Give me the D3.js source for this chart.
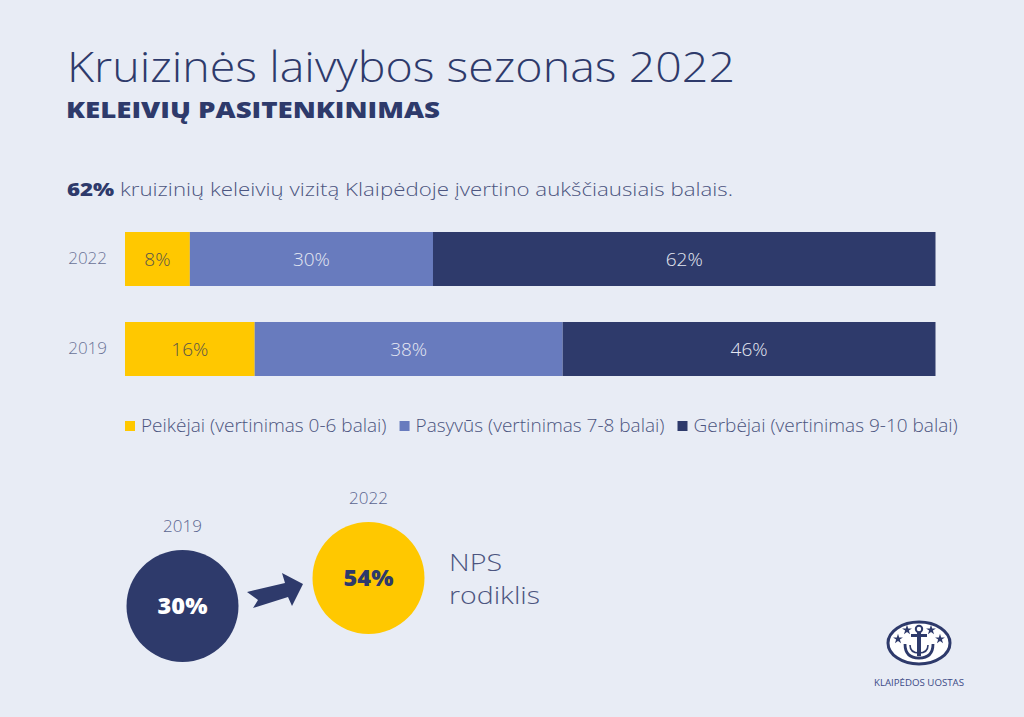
<!DOCTYPE html>
<html>
<head>
<meta charset="utf-8">
<script src="https://cdn.jsdelivr.net/npm/d3@7"></script>
<style>
  body { margin: 0; background: #e8ecf5; }
  svg { display: block; font-family: "Open Sans", sans-serif; }
</style>
</head>
<body>
<svg id="chart"></svg>
<script>
// Data
const years = ["2022", "2019"];
const peikejai = [8, 16];
const pasyvus = [30, 38];
const gerbejai = [62, 46];
const seriesKeys = ["peikejai", "pasyvus", "gerbejai"];
const seriesLabels = [
  "Peikėjai (vertinimas 0-6 balai)",
  "Pasyvūs (vertinimas 7-8 balai)",
  "Gerbėjai (vertinimas 9-10 balai)"
];
const seriesColors = ["#ffc800", "#687bbe", "#2e3a6b"];
const npsYears = ["2019", "2022"];
const npsValues = [30, 54];

const width = 1024;
const height = 717;
const navy = "#2e3a6b";

const svg = d3.select("#chart")
  .attr("width", width)
  .attr("height", height);

svg.append("rect")
  .attr("width", width)
  .attr("height", height)
  .attr("fill", "#e8ecf5");

// Titles
svg.append("text")
  .attr("x", 67)
  .attr("y", 82)
  .attr("fill", navy)
  .attr("font-size", 42)
  .attr("font-weight", 300)
  .attr("textLength", 668)
  .attr("lengthAdjust", "spacingAndGlyphs")
  .text("Kruizinės laivybos sezonas 2022");

svg.append("text")
  .attr("x", 66)
  .attr("y", 118)
  .attr("fill", navy)
  .attr("font-size", 22)
  .attr("font-weight", 800)
  .attr("textLength", 374)
  .attr("lengthAdjust", "spacingAndGlyphs")
  .text("KELEIVIŲ PASITENKINIMAS");

const intro = svg.append("text")
  .attr("x", 67)
  .attr("y", 196)
  .attr("fill", "#4c5580")
  .attr("font-size", 18)
  .attr("textLength", 666)
  .attr("lengthAdjust", "spacingAndGlyphs");
intro.append("tspan")
  .attr("font-weight", 800)
  .attr("fill", navy)
  .text("62%");
intro.append("tspan")
  .attr("font-weight", 300)
  .text(" kruizinių keleivių vizitą Klaipėdoje įvertino aukščiausiais balais.");

// Stacked bars
const rows = years.map((y, i) => ({
  year: y,
  peikejai: peikejai[i],
  pasyvus: pasyvus[i],
  gerbejai: gerbejai[i]
}));

const stacked = d3.stack().keys(seriesKeys)(rows);

const x = d3.scaleLinear()
  .domain([0, 100])
  .range([125, 935.5]);

const y = d3.scaleBand()
  .domain(years)
  .range([232, 376])
  .paddingInner(0.4);

const color = d3.scaleOrdinal()
  .domain(seriesKeys)
  .range(seriesColors);

const layers = svg.selectAll(".layer")
  .data(stacked)
  .enter()
  .append("g")
  .attr("class", "layer")
  .attr("fill", d => color(d.key));

layers.selectAll("rect")
  .data(d => d)
  .enter()
  .append("rect")
  .attr("x", d => x(d[0]))
  .attr("y", d => y(d.data.year))
  .attr("width", d => x(d[1]) - x(d[0]))
  .attr("height", y.bandwidth());

layers.selectAll("text")
  .data(d => d.map(v => ({ key: d.key, v: v })))
  .enter()
  .append("text")
  .attr("x", d => (x(d.v[0]) + x(d.v[1])) / 2)
  .attr("y", d => y(d.v.data.year) + y.bandwidth() / 2)
  .attr("dy", "0.35em")
  .attr("text-anchor", "middle")
  .attr("font-size", 19)
  .attr("font-weight", 300)
  .attr("fill", d => d.key === "peikejai" ? "#5a5648" : "#e4e7f2")
  .text(d => (d.v[1] - d.v[0]) + "%");

// Year labels on the left of the bars
const yAxis = svg.append("g")
  .attr("transform", "translate(107,0)")
  .call(d3.axisLeft(y).tickSize(0).tickPadding(0));
yAxis.select(".domain").remove();
yAxis.selectAll("text")
  .attr("font-family", "Open Sans, sans-serif")
  .attr("font-size", 17)
  .attr("font-weight", 300)
  .attr("fill", "#6b7397");

// Legend
const legend = svg.append("g")
  .attr("transform", "translate(125,421)");

let legendX = 0;
seriesLabels.forEach((label, i) => {
  const item = legend.append("g")
    .attr("transform", `translate(${legendX},0)`);
  item.append("rect")
    .attr("width", 10)
    .attr("height", 10)
    .attr("fill", seriesColors[i]);
  const t = item.append("text")
    .attr("x", 16)
    .attr("y", 10.5)
    .attr("font-size", 19)
    .attr("font-weight", 300)
    .attr("fill", "#4c5580")
    .text(label);
  legendX += 16 + t.node().getComputedTextLength() + 13;
});

// NPS circles
const npsX = d3.scalePoint()
  .domain(npsYears)
  .range([182.5, 368.5]);

const npsY = d3.scaleLinear()
  .domain([30, 54])
  .range([606, 578]);

const radius = 56;
const npsColors = [navy, "#ffc800"];
const npsTextColors = ["#ffffff", navy];

const nps = svg.selectAll(".nps")
  .data(npsYears)
  .enter()
  .append("g")
  .attr("class", "nps")
  .attr("transform", (d, i) => `translate(${npsX(d)},${npsY(npsValues[i])})`);

nps.append("circle")
  .attr("r", radius)
  .attr("fill", (d, i) => npsColors[i]);

nps.append("text")
  .attr("text-anchor", "middle")
  .attr("dy", "0.36em")
  .attr("font-size", 23.5)
  .attr("font-weight", 800)
  .attr("fill", (d, i) => npsTextColors[i])
  .text((d, i) => npsValues[i] + "%");

nps.append("text")
  .attr("text-anchor", "middle")
  .attr("y", -radius - 18)
  .attr("font-size", 17)
  .attr("font-weight", 300)
  .attr("fill", "#5b6590")
  .text(d => d);

// Arrow between the circles
svg.append("path")
  .attr("d", "M247,592 L285,583 L282,573 L303,584 L292,606 L288,597 L253,608 L258,600 Z")
  .attr("fill", navy);

svg.append("text")
  .attr("x", 449)
  .attr("y", 571)
  .attr("font-size", 24)
  .attr("font-weight", 300)
  .attr("fill", "#4c5580")
  .attr("textLength", 53)
  .attr("lengthAdjust", "spacingAndGlyphs")
  .text("NPS");

svg.append("text")
  .attr("x", 449)
  .attr("y", 604)
  .attr("font-size", 24)
  .attr("font-weight", 300)
  .attr("fill", "#4c5580")
  .attr("textLength", 91)
  .attr("lengthAdjust", "spacingAndGlyphs")
  .text("rodiklis");

// Port logo
const logo = svg.append("g")
  .attr("transform", "translate(919,643)");

logo.append("ellipse")
  .attr("rx", 31)
  .attr("ry", 21)
  .attr("fill", "#ffffff")
  .attr("stroke", navy)
  .attr("stroke-width", 3);

logo.append("circle")
  .attr("cy", -14)
  .attr("r", 3.2)
  .attr("fill", "none")
  .attr("stroke", navy)
  .attr("stroke-width", 2);

logo.append("rect")
  .attr("x", -8)
  .attr("y", -9)
  .attr("width", 16)
  .attr("height", 3)
  .attr("fill", navy);

logo.append("rect")
  .attr("x", -2)
  .attr("y", -11)
  .attr("width", 4)
  .attr("height", 24)
  .attr("fill", navy);

logo.append("path")
  .attr("d", "M-14,1 Q-14,15 0,15 Q14,15 14,1")
  .attr("fill", "none")
  .attr("stroke", navy)
  .attr("stroke-width", 2.8);

logo.append("path")
  .attr("d", "M-9,2 Q-9,10 0,10 Q9,10 9,2")
  .attr("fill", "none")
  .attr("stroke", navy)
  .attr("stroke-width", 1.6);

const star = d3.symbol().type(d3.symbolStar).size(30);
[[-12, -13], [12, -13], [-21, -4], [21, -4]].forEach(p => {
  logo.append("path")
    .attr("d", star())
    .attr("transform", `translate(${p[0]},${p[1]})`)
    .attr("fill", navy);
});

svg.append("text")
  .attr("x", 919)
  .attr("y", 686)
  .attr("text-anchor", "middle")
  .attr("font-size", 9.5)
  .attr("fill", "#3c4a86")
  .attr("textLength", 90)
  .attr("lengthAdjust", "spacingAndGlyphs")
  .text("KLAIPĖDOS UOSTAS");
</script>
</body>
</html>
